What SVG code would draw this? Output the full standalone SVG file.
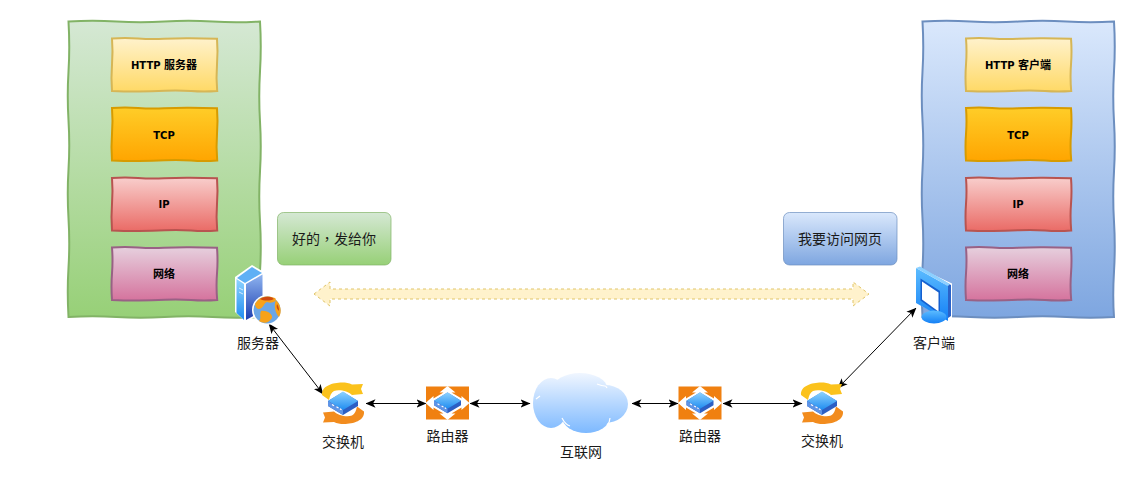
<svg xmlns="http://www.w3.org/2000/svg" width="1148" height="492" viewBox="0 0 1148 492">
<style>
text{font-family:"Noto Sans CJK SC","DejaVu Sans",sans-serif;fill:#1a1a1a;text-anchor:middle}
.lbl{font-size:14px}
.lay{font-family:"DejaVu Sans","Noto Sans CJK SC",sans-serif;font-size:10px;font-weight:700;fill:#000}
.cjk{font-size:11px}
.tc{font-family:"Noto Sans CJK TC",sans-serif}
.sk{stroke-width:2}
.c{fill:none;stroke:#000;stroke-width:1;marker-start:url(#ah);marker-end:url(#ah)}
</style>
<defs>
<marker id="ah" viewBox="0 0 10 10" refX="9.500" refY="5" markerWidth="10" markerHeight="10" orient="auto-start-reverse" markerUnits="userSpaceOnUse"><path d="M0 0.800L10 5L0 9.200L2.500 5Z" fill="#000"/></marker>
<linearGradient id="g" x1="0" y1="0" x2="0" y2="1"><stop offset="0" stop-color="#d5e8d4"/><stop offset="1" stop-color="#97d077"/></linearGradient>
<linearGradient id="b" x1="0" y1="0" x2="0" y2="1"><stop offset="0" stop-color="#dae8fc"/><stop offset="1" stop-color="#7ea6e0"/></linearGradient>
<linearGradient id="y" x1="0" y1="0" x2="0" y2="1"><stop offset="0" stop-color="#fff2cc"/><stop offset="1" stop-color="#ffd966"/></linearGradient>
<linearGradient id="o" x1="0" y1="0" x2="0" y2="1"><stop offset="0" stop-color="#ffcd28"/><stop offset="1" stop-color="#ffa500"/></linearGradient>
<linearGradient id="r" x1="0" y1="0" x2="0" y2="1"><stop offset="0" stop-color="#f8cecc"/><stop offset="1" stop-color="#ea6b66"/></linearGradient>
<linearGradient id="p" x1="0" y1="0" x2="0" y2="1"><stop offset="0" stop-color="#e6d0de"/><stop offset="1" stop-color="#d5739d"/></linearGradient>
<linearGradient id="dev" x1="0" y1="0" x2="0" y2="1"><stop offset="0" stop-color="#8fd3ff"/><stop offset="1" stop-color="#1f8cf0"/></linearGradient>
<linearGradient id="cl" gradientUnits="userSpaceOnUse" x1="0" y1="373" x2="0" y2="433"><stop offset="0" stop-color="#f0f6ff"/><stop offset="1" stop-color="#7db9ff"/></linearGradient>
<linearGradient id="srv" x1="0" y1="0" x2="0" y2="1"><stop offset="0" stop-color="#8fb4f0"/><stop offset="1" stop-color="#1c3fb0"/></linearGradient>
<linearGradient id="scr" x1="0" y1="0" x2="0" y2="1"><stop offset="0" stop-color="#5cbcff"/><stop offset="1" stop-color="#1480f5"/></linearGradient>
<path id="pn" d="M0 0Q24-1.500 48 0T96 0T144 0T191.500 0Q193 25 191.500 50T191.500 100T191.500 150T191.500 200T191.500 250T191.500 295.500Q168 297 144 295.500T96 295.500T48 295.500T0 295.500Q-1.500 270 0 246T0 197T0 148T0 99T0 50T0 0Z"/>
<path id="bx" d="M0 0Q13-1 26 0T52 0.300T78-0.300T105 0.200Q106 13 105 26T105.200 52.500Q92 53.500 79 52.500T53 52.200T27 53T0 52.500Q-1 39 0 26T0 0Z"/>
<g id="device">
<path d="M0-11L15-2V3L0 12L-15 3V-2Z" fill="#2c5fc4"/>
<path d="M0-11.500L15-2L0 7L-15-2Z" fill="url(#dev)"/>
<path d="M-15-2L0 7V12L-15 3Z" fill="#5f94e6"/>
<path d="M-11 1.500L-9 2.700M-6.500 3.800L-4.500 5M-3 5.800L-1.500 6.800" stroke="#fff" stroke-width="1.300"/>
</g>
<g id="router">
<rect x="-21.500" y="-16.500" width="43" height="33" fill="#f08010"/>
<path d="M0-17L8-10.500H4L14-4.500V-7L22 0L14 7V4.500L4 10.500H8L0 17L-8 10.500H-4L-14 4.500V7L-22 0L-14-7V-4.500L-4-10.500H-8Z" fill="#fff"/>
<use href="#device" transform="translate(0,-0.500) scale(0.9)"/>
</g>
<path id="arc" d="M-21-8C-22-17-10-20.500-1-20.500C3-20.500 6-20 9-18.500L20-19L18-14L20-9L9-8C5-12-4-14-9-12C-12-10.500-13-7-14-3Z"/>
<g id="switch">
<use href="#arc" fill="#fbc21c"/>
<use href="#arc" fill="#f28c1e" transform="rotate(180) translate(0,-0.500)"/>
<use href="#device"/>
</g>
</defs>

<g id="server-stack">
<use href="#pn" x="68.500" y="21.500" fill="url(#g)" stroke="#82b366" class="sk"/>
<use href="#bx" x="112" y="38.500" fill="url(#y)" stroke="#d6b656" class="sk"/>
<text class="lay" x="164" y="69">HTTP <tspan class="cjk">服务器</tspan></text>
<use href="#bx" x="112" y="108" fill="url(#o)" stroke="#d79b00" class="sk"/>
<text class="lay" x="164" y="138.500">TCP</text>
<use href="#bx" x="112" y="178" fill="url(#r)" stroke="#b85450" class="sk"/>
<text class="lay" x="164" y="208">IP</text>
<use href="#bx" x="112" y="247.500" fill="url(#p)" stroke="#996185" class="sk"/>
<text class="lay" x="164" y="278"><tspan class="cjk">网络</tspan></text>
</g>

<g id="client-stack">
<use href="#pn" x="922.500" y="21.500" fill="url(#b)" stroke="#6c8ebf" class="sk"/>
<use href="#bx" x="966" y="38.500" fill="url(#y)" stroke="#d6b656" class="sk"/>
<text class="lay" x="1018" y="69">HTTP <tspan class="cjk">客户端</tspan></text>
<use href="#bx" x="966" y="108" fill="url(#o)" stroke="#d79b00" class="sk"/>
<text class="lay" x="1018" y="138.500">TCP</text>
<use href="#bx" x="966" y="178" fill="url(#r)" stroke="#b85450" class="sk"/>
<text class="lay" x="1018" y="208">IP</text>
<use href="#bx" x="966" y="247.500" fill="url(#p)" stroke="#996185" class="sk"/>
<text class="lay" x="1018" y="278"><tspan class="cjk">网络</tspan></text>
</g>

<g id="msg-server">
<rect x="277.500" y="212.500" width="113.500" height="52.500" rx="6" fill="url(#g)" stroke="#82b366" stroke-opacity="0.700"/>
<text class="lbl" x="334" y="244">好的<tspan class="tc">，</tspan>发给你</text>
</g>
<g id="msg-client">
<rect x="783.500" y="212.500" width="113.500" height="52.500" rx="6" fill="url(#b)" stroke="#6c8ebf" stroke-opacity="0.700"/>
<text class="lbl" x="840" y="244">我要访问网页</text>
</g>

<g id="connectors">
<path d="M314 294L330 282V289H853V282L869 294L853 306V299H330V306Z" fill="#fff2cc" stroke="#e0c56a" stroke-width="1" stroke-dasharray="3 3"/>
<path class="c" d="M269 324L323 394"/>
<path class="c" d="M366 403.500H426"/>
<path class="c" d="M470 403.500H530"/>
<path class="c" d="M632 403.500H678"/>
<path class="c" d="M723 403.500H802"/>
<path class="c" d="M916 308L838 388"/>
</g>

<g id="server">
<path d="M252 265L264 272V312L246 322L235 312V277Z" fill="#fff"/>
<path d="M252 267L262 273L245 283L237 278Z" fill="#5fb0f5"/>
<path d="M236.500 279L244 284V320L236.500 313Z" fill="url(#dev)"/>
<path d="M246 284L262.500 274.500V311L246 320Z" fill="url(#srv)"/>
<path d="M239 288L243 290M239 292L243 294" stroke="#d8ecff" stroke-width="1"/>
<circle cx="267" cy="310" r="15" fill="#fff"/>
<circle cx="267" cy="310" r="13.500" fill="#6aa6e6"/>
<path d="M255 304C259 296 268 295 275 298C278 301 272 304 267 302C263 304 264 308 259 309C257 309 255 307 255 304ZM276 300C281 305 282 312 279 317C276 314 273 306 276 300ZM261 311C268 310 273 315 272 318C269 323 264 324 259 321C262 318 259 315 261 311Z" fill="#f7a21a"/>
<path d="M260 299C265 296 271 296 274 299C270 301 264 301 260 299ZM277 304C279 307 279 309 279 311C277 309 276 307 277 304Z" fill="#cf4a10"/>
<text class="lbl" x="258" y="348">服务器</text>
</g>

<g id="client">
<path d="M917 267L952 283.500V318L950 321L916 303Z" fill="#fff"/>
<path d="M921 268L951 285V316L948 318V286Z" fill="#2a62c8"/>
<path d="M916 268L948 286V321L916 303Z" fill="url(#scr)"/>
<path d="M916 268L920 266.500L950 284L948 286Z" fill="#8cd0ff"/>
<path d="M920.500 278.500L940 291V314.500L920.500 300.500Z" fill="#1560d0"/>
<path d="M922 281.500L938.500 292.500V311.500L922 299.500Z" fill="#fff"/>
<ellipse cx="934" cy="317" rx="12.500" ry="6.500" fill="url(#scr)"/>
<text class="lbl" x="934" y="348">客户端</text>
</g>

<g id="switch-left"><use href="#switch" x="343" y="403"/><text class="lbl" x="343" y="447">交换机</text></g>
<g id="router-left"><use href="#router" x="447.500" y="403"/><text class="lbl" x="447.500" y="441">路由器</text></g>
<g id="internet">
<g fill="url(#cl)">
<ellipse cx="551" cy="403" rx="18" ry="25"/>
<ellipse cx="580" cy="388" rx="27" ry="15"/>
<ellipse cx="605" cy="404" rx="23" ry="19"/>
<ellipse cx="586" cy="417" rx="24" ry="16"/>
<rect x="555" y="390" width="50" height="25"/>
</g>
<path d="M562 418C564 422 567 425 570 426M610 418C610 421 609 423 607 425M536 399L540 396M597 384C607 388 605 384 607 388" fill="none" stroke="#fff" stroke-width="1.200"/>
<text class="lbl" x="581" y="457">互联网</text>
</g>
<g id="router-right"><use href="#router" x="700" y="403"/><text class="lbl" x="700" y="441">路由器</text></g>
<g id="switch-right"><use href="#switch" x="822" y="403"/><text class="lbl" x="822" y="446">交换机</text></g>
</svg>
